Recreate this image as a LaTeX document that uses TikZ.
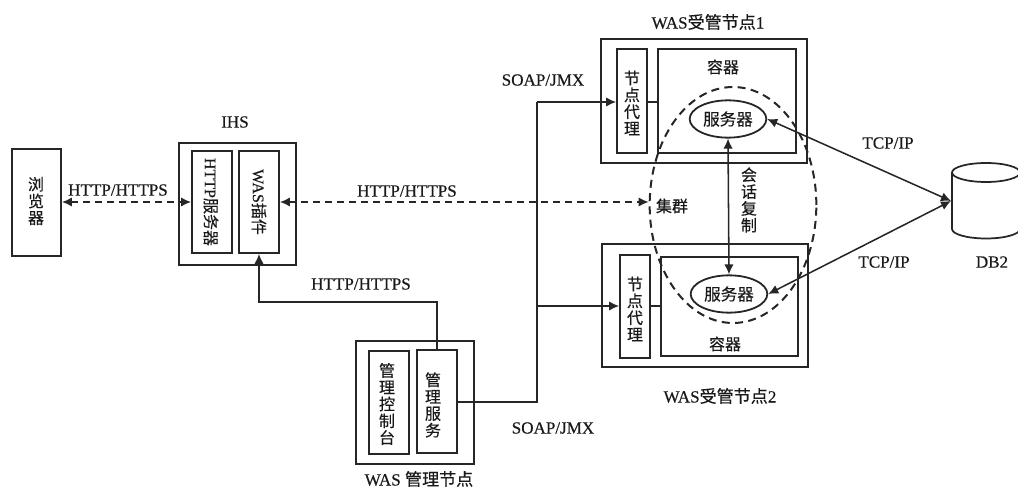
\documentclass[tikz,border=0pt]{standalone}
\usepackage{fontspec}
\setmainfont[FakeBold=0.4]{Liberation Serif}
\newfontfamily\cjk[FakeBold=0.35]{Noto Sans CJK SC}
\usetikzlibrary{arrows.meta,fit,shapes.geometric}
\tikzset{
  x=0.75pt,y=-0.75pt,
  ln/.style={line width=1.15pt,black!85},
  box/.style={draw=black!85,line width=1.35pt,inner sep=0pt},
  lbl/.style={inner sep=0pt,font=\fontsize{12.8pt}{14pt}\selectfont,text=black!90},
  zh/.style={inner sep=0pt,align=center,font=\cjk\fontsize{12pt}{12.6pt}\selectfont,text=black!90},
  arr/.style={ln,-{Latex[length=7.5pt,width=7pt]}},
  dbl/.style={ln,{Latex[length=7.5pt,width=7pt]}-{Latex[length=7.5pt,width=7pt]}},
  dasharr/.style={dbl,line width=1.3pt,dash pattern=on 5.5pt off 3.5pt},
  srv/.style={ellipse,draw=black!85,line width=1.35pt,inner sep=0pt,minimum width=57.5pt,minimum height=28pt,font=\cjk\fontsize{12.4pt}{13pt}\selectfont,text=black!90},
}
\begin{document}
\begin{tikzpicture}
\useasboundingbox (0,0) rectangle (1018,488);
\clip (0,0) rectangle (1018,488);
% browser
\node[box,fit={(12,149)(61,256)}] (browser) {};
\node[zh] (browsert) at (36,201) {浏\\览\\器};
% IHS
\node[box,fit={(179,143)(296,265)}] (ihs) {};
\node[box,fit={(192,151)(232,253)}] (http) {};
\node[box,fit={(239,151)(279,253)}] (plug) {};
\node[zh,rotate=-90] (httpt) at (211,202) {\fontsize{12pt}{13pt}\rmfamily HTTP\cjk 服务器};
\node[zh,rotate=-90] (plugt) at (259,202) {\fontsize{12pt}{13pt}\rmfamily WAS\cjk 插件};
\node[lbl] (ihst) at (235,122) {IHS};
% management node
\node[box,fit={(356,341)(474,464)}] (mgr) {};
\node[box,fit={(369,351)(409,454)}] (console) {};
\node[zh] (consolet) at (387,404) {管\\理\\控\\制\\台};
\node[box,fit={(417,350)(457,453)}] (msvc) {};
\node[zh] (msvct) at (433,405) {管\\理\\服\\务};
\node[lbl] (mgrt) at (419,479) {WAS {\cjk 管理节点}};
% node 1
\node[box,fit={(601,39)(807,163)}] (n1) {};
\node[box,fit={(617,49)(647,153)}] (ag1) {};
\node[zh] (ag1t) at (632,103) {节\\点\\代\\理};
\node[box,fit={(658,49)(796,153)}] (c1) {};
\node[srv] (s1) at (728,119) {服务器};
\node[zh] (c1t) at (723,67) {容器};
\node[lbl] (n1t) at (708,22) {WAS{\cjk 受管节点}1};
% node 2
\node[box,fit={(602,244)(808,367)}] (n2) {};
\node[box,fit={(620,255)(650,358)}] (ag2) {};
\node[zh] (ag2t) at (635,309) {节\\点\\代\\理};
\node[box,fit={(661,257)(798,356)}] (c2) {};
\node[srv] (s2) at (729,294) {服务器};
\node[zh] (c2t) at (725,344) {容器};
\node[lbl] (n2t) at (720,396) {WAS{\cjk 受管节点}2};
% cluster
\node[ellipse,draw=black!85,line width=1.5pt,dash pattern=on 6pt off 4pt,inner sep=0pt,minimum width=125pt,minimum height=177pt] (cluster) at (733,205) {};
\node[zh] (clt) at (672,206) {集群};
\node[zh] (rep) at (749,200) {会\\话\\复\\制};
% database
\draw[ln,line width=1.3pt,fill=white] (952,172) -- (952,229) arc[start angle=180,end angle=360,x radius=34,y radius=-9.5] -- (1020,172);
\draw[ln,line width=1.3pt] (986,172.5) ellipse[x radius=34,y radius=9.5];
\coordinate (dbport) at (951,201);
\node[lbl] (dbt) at (992,262) {DB2};
% connectors
\coordinate (bend1) at (537,402);
\coordinate (branchT) at (537,102);
\coordinate (branchB) at (537,306);
\coordinate (bendU) at (259,302);
\draw[dasharr] (browser.east|-http.west) -- (http.west);
\draw[dasharr] (plug.east) -- (plug.east-|cluster.west);
\draw[arr] (msvc.north) |- (bendU) -- (plug.south);
\draw[ln] (msvc.east|-bend1) -- (bend1) -- (branchT);
\draw[arr] (branchT) -- (ag1.west|-branchT);
\draw[arr] (branchB) -- (ag2.west|-branchB);
\draw[ln] (ag1.east|-branchT) -- (c1.west|-branchT);
\draw[ln] (ag2.east|-branchB) -- (c2.west|-branchB);
\draw[dbl] (s1.south) -- (s2.north);
\draw[dbl] (s1.east) -- (dbport);
\draw[dbl] (s2.east) -- (dbport);
% labels
\node[lbl] (l1) at (118,190) {HTTP/HTTPS};
\node[lbl] (l2) at (407,191) {HTTP/HTTPS};
\node[lbl] (l3) at (361,284) {HTTP/HTTPS};
\node[lbl] (l4) at (543,80) {SOAP/JMX};
\node[lbl] (l5) at (553,428) {SOAP/JMX};
\node[lbl] (l6) at (888,143) {TCP/IP};
\node[lbl] (l7) at (884,262) {TCP/IP};
\end{tikzpicture}
\end{document}
